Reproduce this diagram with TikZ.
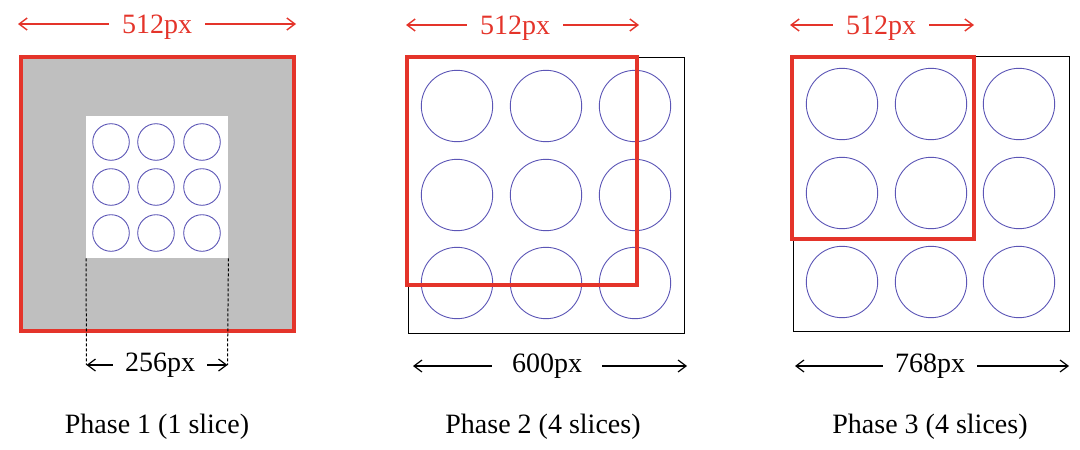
\documentclass[tikz,border=0pt]{standalone}
\usepackage{fontspec}
\setmainfont{Liberation Serif}
\usetikzlibrary{arrows.meta}
\definecolor{rd}{RGB}{228,52,42}
\definecolor{cb}{RGB}{92,86,182}
\definecolor{gr}{RGB}{191,191,191}
\begin{document}
\begin{tikzpicture}[x=1pt,y=-1pt,
  lbl/.style={font=\fontsize{28}{32}\selectfont, inner sep=0pt},
  dimred/.style={lbl, text=rd, text height=20pt, text depth=2pt, inner xsep=13pt},
  dimblk/.style={lbl, text=black, text height=18pt, text depth=6pt},
  redarr/.style={draw=rd, line width=1.4pt, -{Straight Barb[length=8pt,width=12pt]}},
  blkarr/.style={draw=black, line width=1.2pt, -{Straight Barb[length=8pt,width=12pt]}},
  dot/.style={draw=cb, line width=0.9pt},
  redbox/.style={draw=rd, line width=3.5pt},
  blkbox/.style={draw=black, line width=1pt},
  guide/.style={draw=black, line width=1pt, dash pattern=on 3pt off 2pt},
]
\useasboundingbox (0,0) rectangle (1080,450);

% ---------- Phase 1 ----------
\fill[gr] (21,57) rectangle (294,331);
\node[fill=white, minimum size=142pt, inner sep=0pt, anchor=north west] (ws) at (86,116) {};
\foreach \cx in {111,156,202}{
  \foreach \cy in {142,187,233}{
    \draw[dot] (\cx,\cy) circle[radius=18.3pt];
  }
}
\draw[redbox] (21,57) rectangle (294,331);

\node[dimred] (r1) at (157,24) {512px};
\coordinate (r1l) at (18,24);
\coordinate (r1r) at (296,24);
\draw[redarr] (r1.west) -- (r1l);
\draw[redarr] (r1.east) -- (r1r);

\coordinate (t1l) at (86.5,365);
\coordinate (t1r) at (227.5,365);
\draw[guide] (ws.south west) -- (t1l);
\draw[guide] (ws.south east) -- (t1r);
\node[dimblk, inner xsep=12pt] (t1) at (160,365) {256px};
\draw[blkarr] (t1.west) -- (t1l);
\draw[blkarr] (t1.east) -- (t1r);

\node[lbl] (p1) at (157,427) {Phase 1 (1 slice)};

% ---------- Phase 2 ----------
\draw[blkbox] (408,57) rectangle (684,333);
\foreach \cx in {457,546,635}{
  \foreach \cy in {106,195,283}{
    \draw[dot] (\cx,\cy) circle[radius=35.7pt];
  }
}
\draw[redbox] (407,57) rectangle (637,285);

\node[dimred] (r2) at (515,25) {512px};
\coordinate (r2l) at (406,25);
\coordinate (r2r) at (639,25);
\draw[redarr] (r2.west) -- (r2l);
\draw[redarr] (r2.east) -- (r2r);

\node[dimblk, inner xsep=20pt] (t2) at (547,366) {600px};
\coordinate (t2l) at (413,366);
\coordinate (t2r) at (687,366);
\draw[blkarr] (t2.west) -- (t2l);
\draw[blkarr] (t2.east) -- (t2r);

\node[lbl] (p2) at (543,427) {Phase 2 (4 slices)};

% ---------- Phase 3 ----------
\draw[blkbox] (793,56) rectangle (1069,331);
\foreach \cx in {842,931,1019}{
  \foreach \cy in {104,193,282}{
    \draw[dot] (\cx,\cy) circle[radius=35.7pt];
  }
}
\draw[redbox] (792,57) rectangle (974,239);

\node[dimred] (r3) at (881,25) {512px};
\coordinate (r3l) at (790,25);
\coordinate (r3r) at (974,25);
\draw[redarr] (r3.west) -- (r3l);
\draw[redarr] (r3.east) -- (r3r);

\node[dimblk, inner xsep=12pt] (t3) at (930,366) {768px};
\coordinate (t3l) at (795,366);
\coordinate (t3r) at (1069,366);
\draw[blkarr] (t3.west) -- (t3l);
\draw[blkarr] (t3.east) -- (t3r);

\node[lbl] (p3) at (930,427) {Phase 3 (4 slices)};
\end{tikzpicture}
\end{document}
